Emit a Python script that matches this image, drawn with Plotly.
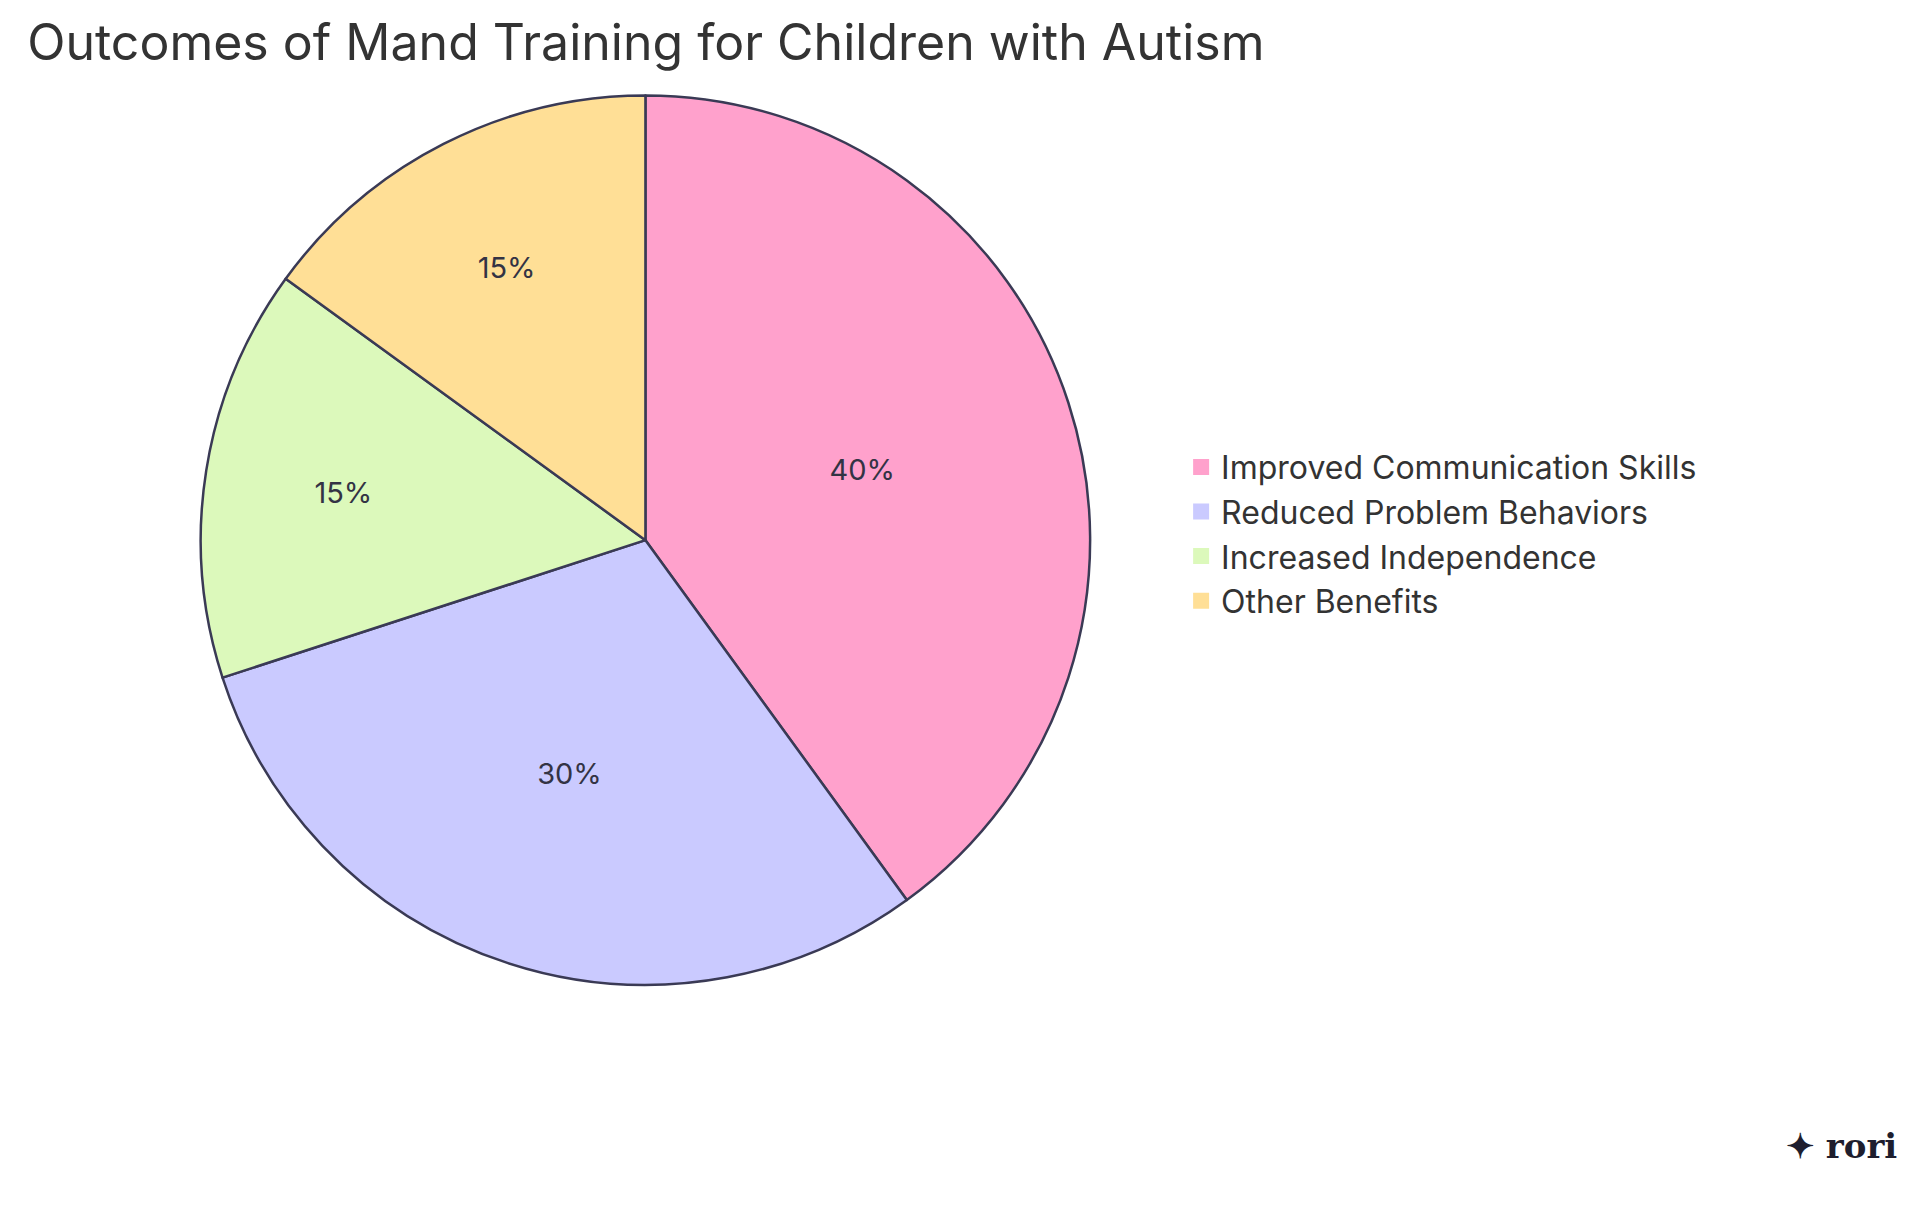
import plotly.graph_objects as go

labels = ["Improved Communication Skills", "Reduced Problem Behaviors", "Increased Independence", "Other Benefits"]
values = [40, 30, 15, 15]
colors = ["#FFA1CC", "#CACAFF", "#DCF9BB", "#FFDF96"]

fig = go.Figure(go.Pie(
    labels=labels, values=values, sort=False, direction="clockwise", rotation=0,
    marker=dict(colors=colors, line=dict(color="#3A3A55", width=2.5)),
    textinfo="percent", texttemplate="%{percent:.0%}", textposition="inside",
    insidetextorientation="horizontal", showlegend=False,
    textfont=dict(family="Inter", size=29, color="#333344"),
    domain=dict(x=[0.100, 0.564], y=[0.196, 0.928]),
))
for lab, col in zip(labels, colors):
    fig.add_trace(go.Scatter(x=[None], y=[None], mode="markers", name=lab,
                             marker=dict(symbol="square", size=40, color=col,
                                         line=dict(color="white", width=0))))
fig.update_layout(
    width=1920, height=1215, paper_bgcolor="white", plot_bgcolor="white",
    margin=dict(l=0, r=0, t=0, b=0),
    xaxis=dict(visible=False), yaxis=dict(visible=False),
    title=dict(text="Outcomes of Mand Training for Children with Autism", x=0.01, xanchor="left",
               y=0.972, yanchor="middle", font=dict(family="Inter", size=50, color="#333333")),
    legend=dict(x=0.611, y=0.567, xanchor="left", yanchor="middle",
                font=dict(family="Inter", size=32, color="#333333"), itemsizing="trace",
                itemwidth=30, tracegroupgap=0),
    annotations=[dict(text="<b>✦ rori</b>", x=0.985, y=0.045, xref="paper", yref="paper",
                      xanchor="right", showarrow=False, font=dict(family="DejaVu Serif", size=34, color="#1E1E2E"))],
)
fig.write_html("out.html")
